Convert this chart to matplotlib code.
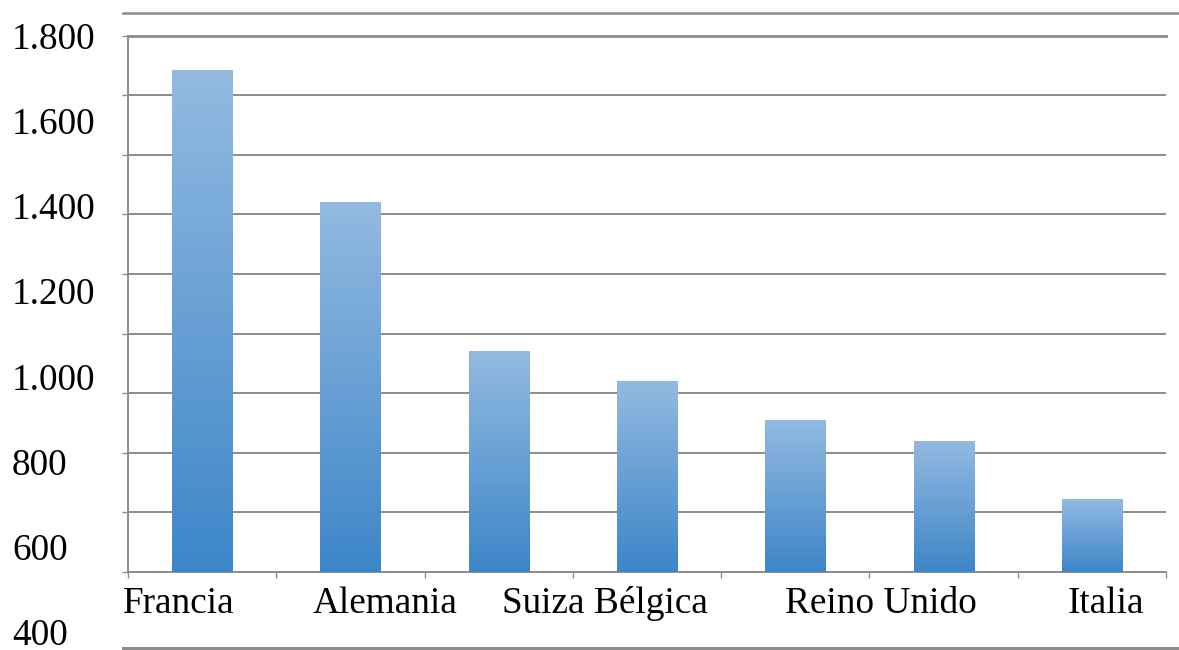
import numpy as np
import matplotlib
matplotlib.use("Agg")
import matplotlib.pyplot as plt
from matplotlib.colors import LinearSegmentedColormap
from matplotlib.transforms import blended_transform_factory
from matplotlib.lines import Line2D

# ---- data ----
bar_values = [1685, 1242, 742, 641, 510, 440, 245]
y_axis_max = 1800
y_grid_step = 200
y_labels = ["1.800", "1.600", "1.400", "1.200", "1.000", "800", "600", "400"]
y_label_values = [1800, 1600, 1400, 1200, 1000, 800, 600, 400]
x_labels = ["Francia", "Alemania", "Suiza Bélgica", "Reino Unido", "Italia"]
x_label_left = [-0.534, 0.747, 2.022, 3.930, 5.838]

W, H = 1179, 650
fig = plt.figure(figsize=(W / 100, H / 100), dpi=100)
fig.patch.set_facecolor("white")

serif = ["Liberation Serif", "DejaVu Serif"]
fs = 26.8
grey = "#8c8c8c"

ax = fig.add_axes([128 / W, 1 - 572 / H, (1166 - 128) / W, (572 - 35.7) / H])
n = len(bar_values)
x = np.arange(n)
ax.set_xlim(-0.5, n - 0.5)
ax.set_ylim(0, y_axis_max)

# gridlines
ax.set_yticks(np.arange(0, y_axis_max + 1, y_grid_step))
ax.yaxis.grid(True, color=grey, linewidth=1.4, zorder=0)
ax.set_axisbelow(True)
ax.set_yticklabels([])
ax.tick_params(axis="y", direction="out", length=4, width=1, color=grey)
ax.set_xticks(np.arange(-0.5, n, 1.0))
ax.set_xticklabels([])
ax.tick_params(axis="x", direction="out", length=4, width=1, color=grey)
for s in ["left", "bottom", "top"]:
    ax.spines[s].set_color(grey)
    ax.spines[s].set_linewidth(1.4)
ax.spines["right"].set_visible(False)
ax.spines["top"].set_linewidth(2.0)

# bars with vertical gradient
cmap = LinearSegmentedColormap.from_list("g", ["#3d86c8", "#93bae1"])
grad = np.linspace(0, 1, 256).reshape(-1, 1)
bars = ax.bar(x, bar_values, width=0.405, color="none", edgecolor="none", zorder=3)
for b in bars:
    x0, w, h = b.get_x(), b.get_width(), b.get_height()
    im = ax.imshow(grad, cmap=cmap, aspect="auto", origin="lower",
                   extent=[x0, x0 + w, 0, h], zorder=3)
    im.set_clip_path(b)
ax.set_xlim(-0.5, n - 0.5)
ax.set_ylim(0, y_axis_max)

# x labels
trans = blended_transform_factory(ax.transData, fig.transFigure)
for lab, xl in zip(x_labels, x_label_left):
    ax.text(xl, 1 - 613 / H, lab, transform=trans, ha="left", va="baseline",
            fontsize=fs, family=serif, color="black")

# y labels (independent scale, as in the reference)
lab_ax = fig.add_axes([0, 1 - 645 / H, 0.001, (645 - 49) / H])
lab_ax.set_ylim(400, 1800)
lab_ax.axis("off")
ytrans = blended_transform_factory(fig.transFigure, lab_ax.transData)
for lab, v in zip(y_labels, y_label_values):
    lab_ax.text(12 / W, v, lab, transform=ytrans, ha="left", va="baseline",
                fontsize=fs, family=serif, color="black", clip_on=False)

# frame lines
fig.add_artist(Line2D([123 / W, 1.0], [1 - 13 / H, 1 - 13 / H], color=grey, lw=1.8))
fig.add_artist(Line2D([123 / W, 1.0], [1 - 648 / H, 1 - 648 / H], color=grey, lw=2.2))

fig.savefig("out.png", dpi=100)
